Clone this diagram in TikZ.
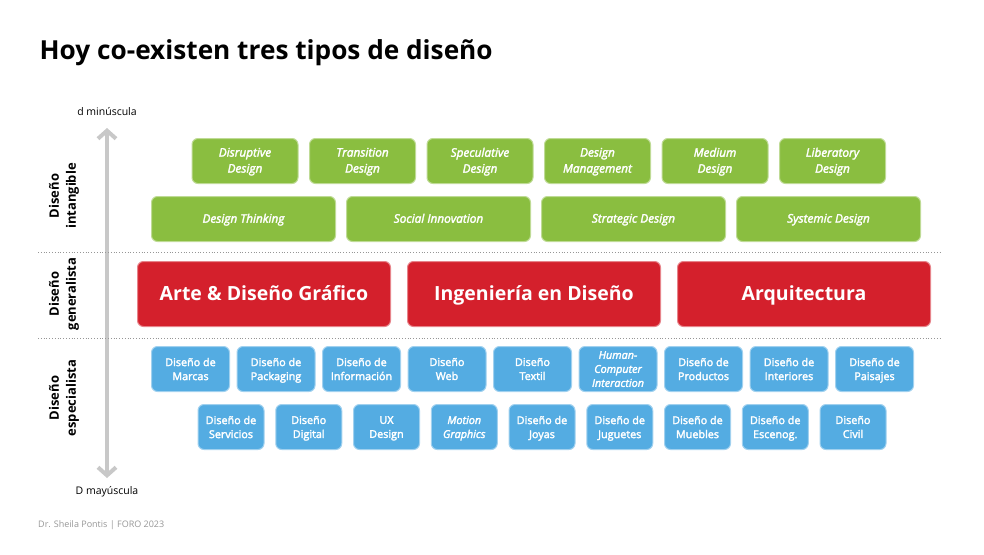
\documentclass[tikz,border=0pt]{standalone}
\usepackage{fontspec}
\setmainfont{Open Sans}
\newfontfamily\semibold{Open Sans}[FakeBold=2.5]
\usetikzlibrary{arrows.meta}
\definecolor{verde}{RGB}{138,190,64}
\definecolor{rojo}{RGB}{212,32,44}
\definecolor{azul}{RGB}{84,172,226}
\definecolor{flecha}{RGB}{200,200,200}
\definecolor{pie}{RGB}{150,150,150}
\begin{document}
\begin{tikzpicture}[
  x=1pt, y=-1pt,
  every node/.style={inner sep=0pt, align=center},
  box/.style={rounded corners=6pt, line width=1pt, text=white},
  green box/.style={box, fill=verde, draw=verde!55!white, minimum height=45pt, text depth=1.5pt,
    font=\semibold\itshape\fontsize{11.8}{16}\selectfont},
  red box/.style={box, fill=rojo, draw=rojo!55!white, minimum width=253pt, minimum height=65pt,
    text depth=1pt, font=\bfseries\fontsize{19.5}{23}\selectfont},
  blue box/.style={box, fill=azul, draw=azul!55!white, minimum height=45pt, text depth=-1pt,
    font=\semibold\fontsize{10.8}{14}\selectfont},
  side label/.style={rotate=90, font=\bfseries\fontsize{13}{17}\selectfont},
  axis label/.style={font=\fontsize{10.5}{13}\selectfont},
  divider/.style={draw=pie, dotted, line width=0.8pt},
]
  \useasboundingbox (0,0) rectangle (984,554);

  \node[anchor=base west, font=\bfseries\fontsize{26.2}{30}\selectfont] (title) at (39.5,59)
    {Hoy co-existen tres tipos de diseño};

  % escala d / D
  \node[axis label] (dmin) at (107,112) {d minúscula};
  \node[axis label] (dmay) at (107,492) {D mayúscula};
  \coordinate (top) at (107,128);
  \coordinate (bottom) at (107,478);
  \draw[flecha, line width=4pt, {Straight Barb[length=8pt,width=18pt]}-{Straight Barb[length=8pt,width=18pt]}]
    (top) -- (bottom);

  \node[side label] (intangible) at (64,196) {Diseño\\intangible};
  \node[side label] (generalista) at (64,294) {Diseño\\generalista};
  \node[side label] (especialista) at (64,398) {Diseño\\especialista};

  \coordinate (d1a) at (38,252);
  \coordinate (d1b) at (942,252);
  \coordinate (d2a) at (38,338);
  \coordinate (d2b) at (942,338);
  \draw[divider] (d1a) -- (d1b);
  \draw[divider] (d2a) -- (d2b);

  % diseno intangible
  \foreach \name/\txt [count=\i] in {
      disruptive/{Disruptive\\Design},
      transition/{Transition\\Design},
      speculative/{Speculative\\Design},
      management/{Design\\Management},
      medium/{Medium\\Design},
      liberatory/{Liberatory\\Design}}
    \node[green box, minimum width=106pt] (\name) at ({245+(\i-1)*117.5},161) {\txt};
  \foreach \name/\txt [count=\i] in {
      thinking/{Design Thinking},
      social/{Social Innovation},
      strategic/{Strategic Design},
      systemic/{Systemic Design}}
    \node[green box, minimum width=184pt] (\name) at ({243.5+(\i-1)*195},219) {\txt};

  % diseno generalista
  \foreach \name/\txt [count=\i] in {
      arte/{Arte \& Diseño Gráfico},
      ingenieria/{Ingeniería en Diseño},
      arquitectura/{Arquitectura}}
    \node[red box] (\name) at ({264+(\i-1)*270},294) {\txt};

  % diseno especialista
  \foreach \name/\txt [count=\i] in {
      marcas/{Diseño de\\Marcas},
      packaging/{Diseño de\\Packaging},
      informacion/{Diseño de\\Información},
      web/{Diseño\\Web},
      textil/{Diseño\\Textil},
      hci/{\itshape Human-\\\itshape Computer\\\itshape Interaction},
      productos/{Diseño de\\Productos},
      interiores/{Diseño de\\Interiores},
      paisajes/{Diseño de\\Paisajes}}
    \node[blue box, minimum width=78pt] (\name) at ({190.5+(\i-1)*85.5},369) {\txt};
  \foreach \name/\txt [count=\i] in {
      servicios/{Diseño de\\Servicios},
      digital/{Diseño\\Digital},
      ux/{UX\\Design},
      motion/{\itshape Motion\\\itshape Graphics},
      joyas/{Diseño de\\Joyas},
      juguetes/{Diseño de\\Juguetes},
      muebles/{Diseño de\\Muebles},
      escenog/{Diseño de\\Escenog.},
      civil/{Diseño\\Civil}}
    \node[blue box, minimum width=66pt] (\name) at ({231+(\i-1)*77.75},427) {\txt};

  \node[anchor=west, text=pie, font=\fontsize{9}{11}\selectfont] (credit) at (38,525)
    {Dr. Sheila Pontis | FORO 2023};
\end{tikzpicture}
\end{document}
